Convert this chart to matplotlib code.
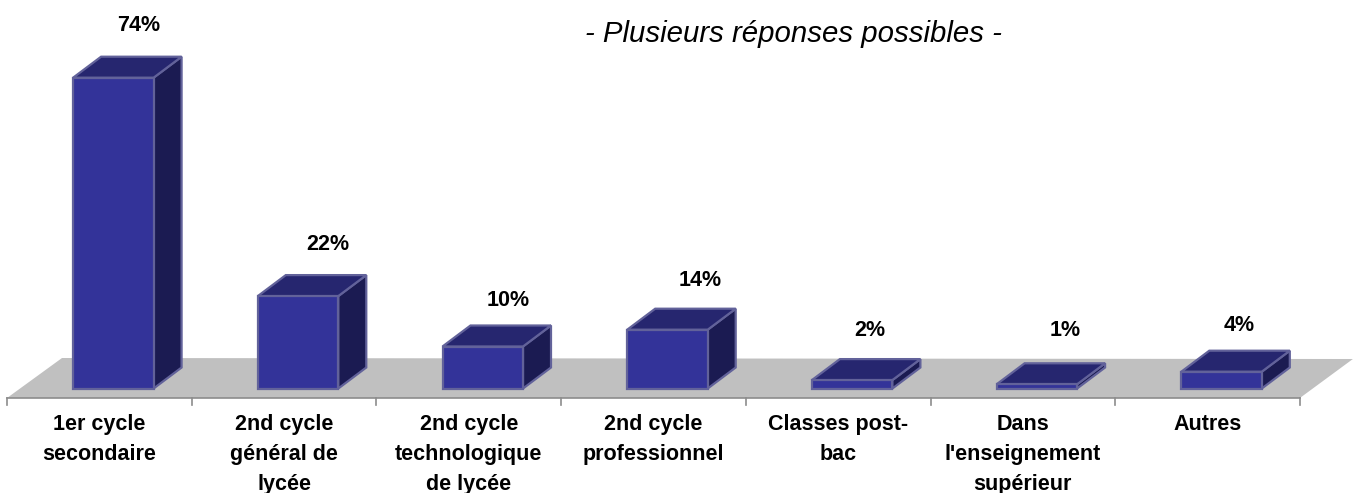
import matplotlib
matplotlib.use("Agg")
import matplotlib.pyplot as plt
from matplotlib.patches import Polygon

plt.rcParams['font.family'] = ['Liberation Sans', 'DejaVu Sans']

# valeurs
categories = ["1er cycle\nsecondaire", "2nd cycle\ngénéral de\nlycée",
              "2nd cycle\ntechnologique\nde lycée", "2nd cycle\nprofessionnel",
              "Classes post-\nbac", "Dans\nl'enseignement\nsupérieur", "Autres"]
values = [74, 22, 10, 14, 2, 1, 4]
value_labels = ["74%", "22%", "10%", "14%", "2%", "1%", "4%"]

# decalage des etiquettes en pixels (x, y au dessus de la face arriere)
label_dx = [25, 30, 25, 33, 18, 28, 18]
label_dy = [31, 31, 25, 28, 29, 33, 25]

W, H = 1354, 493
CAT_W = 184.7      # px par categorie
PCT = 4.2          # px par %
X0, Y0 = 7, 388.5  # bord gauche de l'axe, base des barres

fig = plt.figure(figsize=(W / 100, H / 100), dpi=100)
ax = fig.add_axes([0, 0, 1, 1])
ax.set_xlim(-0.5 - X0 / CAT_W, -0.5 + (W - X0) / CAT_W)
ax.set_ylim(-(H - Y0) / PCT, Y0 / PCT)
ax.axis('off')

px = 1 / CAT_W
py = 1 / PCT
depth_x, depth_y = 28 * px, 21 * py
bar_w = 80.5 * px
shift = 14 * px   # les barres sont decalees vers la droite a cause de la profondeur
n = len(values)

# sol gris
floor_y = -9.5 * py
ax.add_patch(Polygon([(-0.5, floor_y), (n - 0.5, floor_y),
                      (n - 0.5 + 53 * px, floor_y + 39 * py),
                      (-0.5 + 55 * px, floor_y + 40 * py)],
                     closed=True, fc="#c0c0c0", ec="none", zorder=1))

# axe et graduations
ax.plot([-0.5, n - 0.5], [floor_y, floor_y], color="#8c8c8c", lw=1.2, zorder=2)
for i in range(n + 1):
    ax.plot([i - 0.5, i - 0.5], [floor_y, floor_y - 7 * py], color="#8c8c8c", lw=1.2, zorder=2)

edge = "#62629a"
for i, v in enumerate(values):
    x1 = i - bar_w / 2 + shift
    x2 = i + bar_w / 2 + shift
    top = [(x1, v), (x2, v), (x2 + depth_x, v + depth_y), (x1 + depth_x, v + depth_y)]
    side = [(x2, 0), (x2 + depth_x, depth_y), (x2 + depth_x, v + depth_y), (x2, v)]
    front = [(x1, 0), (x2, 0), (x2, v), (x1, v)]
    ax.add_patch(Polygon(side, closed=True, fc="#1b1b52", ec=edge, lw=1.6, zorder=3))
    ax.add_patch(Polygon(top, closed=True, fc="#26266f", ec=edge, lw=1.6, zorder=3))
    ax.add_patch(Polygon(front, closed=True, fc="#333399", ec=edge, lw=1.6, zorder=4))

    ax.annotate(value_labels[i], xy=(i + shift, v + depth_y),
                xytext=(label_dx[i] * 0.72, label_dy[i] * 0.72), textcoords='offset points',
                ha='center', va='center', fontsize=15.5, fontweight='bold', color="black")

    ax.text(i, floor_y - 16 * py, categories[i], ha='center', va='top', fontsize=15.5,
            fontweight='bold', color="black", linespacing=1.56)

ax.text(793 / CAT_W - 0.5 - X0 / CAT_W, (Y0 - 34.5) / PCT, "- Plusieurs réponses possibles -",
        ha='center', va='center', fontsize=21.2, style='italic', color="black")

fig.savefig("out.png", dpi=100, facecolor='white')
